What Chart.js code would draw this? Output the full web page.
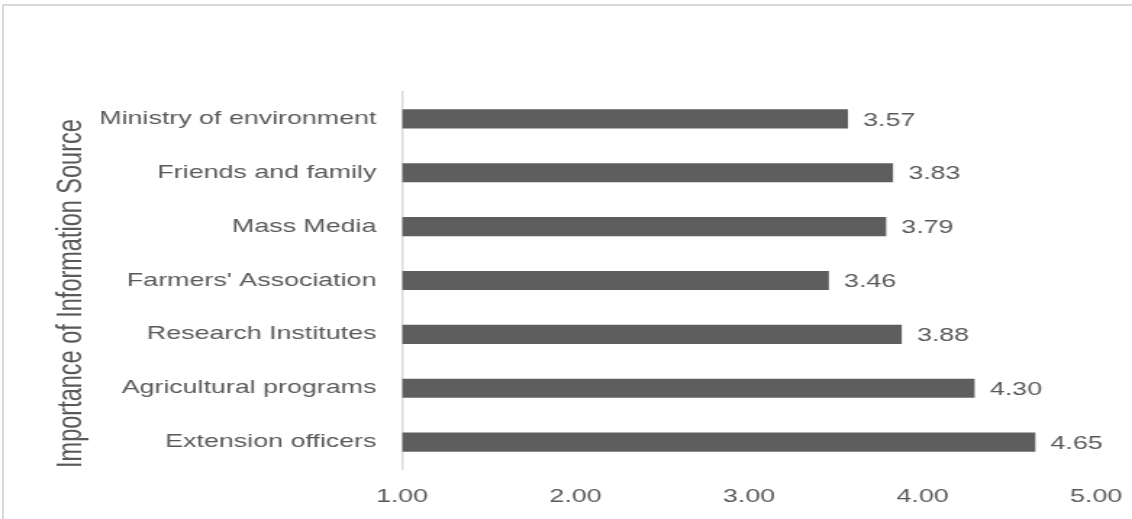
<!DOCTYPE html>
<html>
<head>
<meta charset="utf-8">
<script src="https://cdn.jsdelivr.net/npm/chart.js@4"></script>
<style>
  html, body { margin: 0; padding: 0; background: #ffffff; }
  #wrap { position: relative; width: 1132px; height: 519px; overflow: hidden; }
  #frame {
    position: absolute; left: 2px; top: 4px; width: 1150px; height: 540px;
    border: 2px solid #d9d9d9; box-sizing: border-box;
  }
  #chart { position: absolute; left: 0; top: 0; }
</style>
</head>
<body>
<div id="wrap">
  <div id="frame"></div>
  <!-- drawn on a narrower canvas and widened by CSS, giving the wide lettering -->
  <canvas id="chart" width="781" height="519" style="width:1132px;height:519px"></canvas>
</div>
<script>
// Information sources, top to bottom
const sources = [
  'Ministry of environment',
  'Friends and family',
  'Mass Media',
  "Farmers' Association",
  'Research Institutes',
  'Agricultural programs',
  'Extension officers'
];
// Mean importance score per source
const scores = [3.57, 3.83, 3.79, 3.46, 3.88, 4.30, 4.65];
// Value axis tick values
const axisTicks = [1, 2, 3, 4, 5];
const axisTitle = 'Importance of Information Source';

const TEXT = '#595959';
const FONT = "'Liberation Sans', Arial, sans-serif";
const SIZE = 18.5;

// Writes each bar's score just past its end
const valueLabels = {
  id: 'valueLabels',
  afterDatasetsDraw(chart) {
    const ctx = chart.ctx;
    const meta = chart.getDatasetMeta(0);
    ctx.save();
    ctx.font = SIZE + 'px ' + FONT;
    ctx.fillStyle = TEXT;
    ctx.textAlign = 'left';
    ctx.textBaseline = 'middle';
    meta.data.forEach((bar, i) => {
      ctx.fillText(scores[i].toFixed(2), bar.x + 10.5, bar.y + 1.5);
    });
    ctx.restore();
  }
};

const canvas = document.getElementById('chart');
new Chart(canvas, {
  type: 'bar',
  data: {
    labels: sources,
    datasets: [{
      data: scores,
      base: 1,
      backgroundColor: '#5e5e5e',
      borderWidth: 0,
      categoryPercentage: 1,
      barPercentage: 0.355
    }]
  },
  options: {
    indexAxis: 'y',
    responsive: false,
    animation: false,
    devicePixelRatio: 1,
    layout: { padding: { top: 92, right: 24.8, bottom: 0, left: 0 } },
    plugins: { legend: { display: false }, tooltip: { enabled: false } },
    scales: {
      x: {
        type: 'linear',
        min: axisTicks[0],
        max: axisTicks[axisTicks.length - 1],
        afterBuildTicks(scale) { scale.ticks = axisTicks.map(v => ({ value: v })); },
        afterFit(scale) {
          scale.height = 50;
          scale.paddingLeft = 0;
          scale.paddingRight = 0;
        },
        grid: { display: false, drawTicks: false },
        border: { display: false },
        ticks: {
          padding: 17,
          color: TEXT,
          font: { family: FONT, size: SIZE },
          maxRotation: 0,
          callback: v => Number(v).toFixed(2)
        }
      },
      y: {
        afterFit(scale) { scale.width = 277.4; },
        grid: { display: false, drawTicks: false },
        border: { display: true, color: '#d9d9d9', width: 1.4 },
        ticks: {
          padding: 17.7,
          color: TEXT,
          font: { family: FONT, size: SIZE }
        },
        title: {
          display: true,
          text: axisTitle + '    ',
          color: TEXT,
          font: { family: FONT, size: 23.5 },
          padding: { top: 35.2, bottom: 0 }
        }
      }
    }
  },
  plugins: [valueLabels]
});
// keep the widened display size
canvas.style.width = '1132px';
canvas.style.height = '519px';
</script>
</body>
</html>
